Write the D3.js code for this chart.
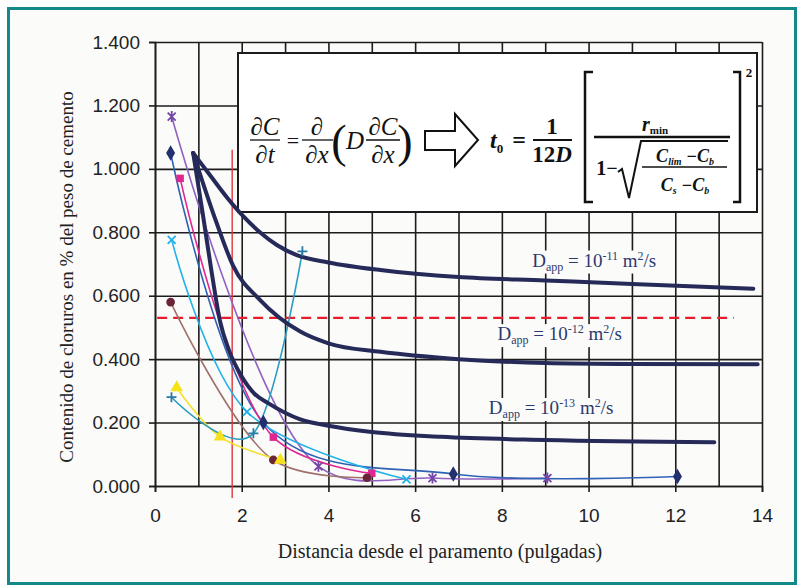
<!DOCTYPE html>
<html>
<head>
<meta charset="utf-8">
<script src="https://cdn.jsdelivr.net/npm/d3@7"></script>
<style>
  body { margin: 0; background: #fff; }
  svg { display: block; }
</style>
</head>
<body>
<div id="chart"></div>
<script>
// ---- data ----
const xGridValues = d3.range(0, 15);
const xLabelValues = d3.range(0, 15, 2);
const yTickValues = [0, 0.2, 0.4, 0.6, 0.8, 1.0, 1.2, 1.4];

// model curves (thick navy)
const dapp11 = [[0.88,1.05],[1.27,0.98],[1.66,0.91],[2.04,0.85],[2.42,0.80],[2.81,0.76],[3.27,0.728],[4,0.705],[5.2,0.681],[7,0.659],[9,0.648],[11,0.637],[13.8,0.622]];
const dapp12 = [[0.88,1.05],[1.42,0.83],[1.8,0.695],[2.42,0.587],[3.35,0.487],[4,0.45],[5.2,0.423],[7,0.40],[9,0.388],[11,0.385],[13.9,0.384]];
const dapp13 = [[0.88,1.05],[1.1,0.86],[1.3,0.68],[1.5,0.52],[1.7,0.43],[2.0,0.345],[2.3,0.29],[2.6,0.262],[3.35,0.21],[4,0.19],[5,0.17],[6.6,0.155],[9,0.145],[12.9,0.138]];
const dappExponents = ["-11", "-12", "-13"];

// measured profiles
const purpleStar = [[0.385,1.165],[3.77,0.062],[6.4,0.025],[9.05,0.025]];
const navyDiamond = [[0.36,1.05],[2.5,0.20],[6.88,0.038],[12.05,0.03]];
const magentaSquare = [[0.58,0.97],[2.73,0.154],[5.0,0.04]];
const cyanX = [[0.385,0.776],[2.12,0.234],[5.8,0.021]];
const brownCircle = [[0.36,0.58],[2.73,0.082],[4.89,0.026]];
const yellowTriangle = [[0.5,0.31],[1.5,0.155],[2.89,0.082]];
const tealPlus = [[0.38,0.28],[2.27,0.166],[3.4,0.74]];

const thresholdY = 0.53;      // red dashed line
const thresholdXRange = [0.05, 13.35];
const coverX = 1.78;          // red vertical line
const coverTop = 1.06;

// ---- layout ----
const width = 804, height = 588;
const plot = { left: 155, right: 762, top: 42, bottom: 486 };

const svg = d3.select("#chart").append("svg")
    .attr("width", width)
    .attr("height", height);

svg.append("rect")
    .attr("x", 8.5).attr("y", 8.5)
    .attr("width", 787).attr("height", 575)
    .attr("fill", "#fbfbfa")
    .attr("stroke", "#14898b")
    .attr("stroke-width", 3);

const x = d3.scaleLinear().domain([0, 14]).range([plot.left, plot.right]);
const y = d3.scaleLinear().domain([0, 1.4]).range([plot.bottom, plot.top]);

const gridColor = "#1c1c1c";

// vertical grid
svg.append("g")
    .attr("transform", `translate(0,${plot.bottom})`)
    .call(d3.axisBottom(x).tickValues(xGridValues).tickSize(-(plot.bottom - plot.top)).tickFormat(""))
    .call(g => g.select(".domain").remove())
    .call(g => g.selectAll("line").attr("stroke", gridColor).attr("stroke-width", 1.6));

// horizontal grid
svg.append("g")
    .attr("transform", `translate(${plot.left},0)`)
    .call(d3.axisLeft(y).tickValues(yTickValues).tickSize(-(plot.right - plot.left)).tickFormat(""))
    .call(g => g.select(".domain").remove())
    .call(g => g.selectAll("line").attr("stroke", gridColor).attr("stroke-width", 1.6));

// x axis ticks + labels
svg.append("g")
    .attr("transform", `translate(0,${plot.bottom})`)
    .call(d3.axisBottom(x).tickValues(xLabelValues).tickSize(6).tickPadding(17).tickFormat(d3.format("d")))
    .call(g => g.select(".domain").attr("stroke", gridColor).attr("stroke-width", 1.6))
    .call(g => g.selectAll("line").attr("stroke", gridColor).attr("stroke-width", 1.6))
    .call(g => g.selectAll("text")
        .attr("fill", "#222")
        .style("font-family", "'Liberation Sans', Arial, sans-serif")
        .style("font-size", "19px"));

// y axis ticks + labels
svg.append("g")
    .attr("transform", `translate(${plot.left},0)`)
    .call(d3.axisLeft(y).tickValues(yTickValues).tickSize(6).tickPadding(9).tickFormat(d3.format(".3f")))
    .call(g => g.select(".domain").attr("stroke", gridColor).attr("stroke-width", 1.6))
    .call(g => g.selectAll("line").attr("stroke", gridColor).attr("stroke-width", 1.6))
    .call(g => g.selectAll("text")
        .attr("fill", "#222")
        .style("font-family", "'Liberation Sans', Arial, sans-serif")
        .style("font-size", "19px"));

// axis titles
svg.append("text")
    .attr("x", 440).attr("y", 558)
    .attr("text-anchor", "middle")
    .style("font-family", "'Liberation Serif', 'Times New Roman', serif")
    .style("font-size", "20px")
    .attr("fill", "#222")
    .text("Distancia desde el paramento (pulgadas)");

svg.append("text")
    .attr("transform", "translate(73,277) rotate(-90)")
    .attr("text-anchor", "middle")
    .style("font-family", "'Liberation Serif', 'Times New Roman', serif")
    .style("font-size", "19px")
    .attr("fill", "#222")
    .text("Contenido de cloruros en % del peso de cemento");

// ---- formula box ----
const box = svg.append("g");
box.append("rect")
    .attr("x", 238).attr("y", 53)
    .attr("width", 519).attr("height", 159)
    .attr("fill", "#fff")
    .attr("stroke", "#1c1c1c")
    .attr("stroke-width", 2);

const serif = "'Liberation Serif', 'Times New Roman', serif";
function ftext(tx, ty, str, size, opts = {}) {
    const t = box.append("text")
        .attr("x", tx).attr("y", ty)
        .attr("text-anchor", opts.anchor || "middle")
        .style("font-family", serif)
        .style("font-size", size + "px")
        .style("font-style", opts.italic ? "italic" : "normal")
        .style("font-weight", opts.bold ? "bold" : "normal")
        .attr("fill", "#111");
    t.text(str);
    return t;
}
function bar(x1, x2, yy, w) {
    box.append("line").attr("x1", x1).attr("x2", x2).attr("y1", yy).attr("y2", yy)
        .attr("stroke", "#111").attr("stroke-width", w || 1.3);
}
// dC/dt = d/dx (D dC/dx)
ftext(265, 135, "∂C", 25, { italic: true });
bar(250, 280, 140);
ftext(265, 163, "∂t", 25, { italic: true });
ftext(293, 148, "=", 22);
ftext(317, 135, "∂", 25, { italic: true });
bar(302, 333, 140);
ftext(317, 163, "∂x", 25, { italic: true });
ftext(339, 157, "(", 46);
ftext(355, 149, "D", 25, { italic: true });
ftext(383, 135, "∂C", 25, { italic: true });
bar(366, 400, 140);
ftext(383, 163, "∂x", 25, { italic: true });
ftext(405, 157, ")", 46);
// hollow arrow
box.append("path")
    .attr("d", "M425,131 H455 V114 L478,140 L455,166 V150 H425 Z")
    .attr("fill", "#fff").attr("stroke", "#111").attr("stroke-width", 2);
// t0 = 1/12D [ r_min / (1 - sqrt(...)) ]^2
const t0 = ftext(490, 148, "t", 24, { bold: true, italic: true, anchor: "start" });
t0.append("tspan").attr("dy", 5).style("font-size", "13px").style("font-style", "normal").text("0");
ftext(519, 148, "=", 24, { bold: true });
ftext(552, 134, "1", 23, { bold: true });
bar(533, 572, 140, 2);
const twelve = ftext(552, 162, "12", 23, { bold: true });
twelve.append("tspan").style("font-style", "italic").text("D");
box.append("path").attr("d", "M593,72 H585 V202 H593").attr("fill", "none").attr("stroke", "#111").attr("stroke-width", 2.5);
box.append("path").attr("d", "M733,72 H740 V202 H733").attr("fill", "none").attr("stroke", "#111").attr("stroke-width", 2.5);
ftext(749, 77, "2", 13, { bold: true });
const rmin = ftext(655, 131, "r", 20, { bold: true, italic: true });
rmin.append("tspan").attr("dy", 3).style("font-size", "11px").style("font-style", "normal").text("min");
bar(594, 730, 137, 2.5);
ftext(607, 175, "1−", 20, { bold: true });
box.append("path")
    .attr("d", "M618,172 L622,169 L629,198 L641,141 H728")
    .attr("fill", "none").attr("stroke", "#111").attr("stroke-width", 2);
const ctop = ftext(685, 162, "C", 18, { bold: true, italic: true });
ctop.append("tspan").attr("dy", 3).style("font-size", "10px").text("lim");
ctop.append("tspan").attr("dy", -3).text(" −C");
ctop.append("tspan").attr("dy", 3).style("font-size", "10px").text("b");
bar(642, 727, 167, 1.6);
const cbot = ftext(685, 191, "C", 18, { bold: true, italic: true });
cbot.append("tspan").attr("dy", 3).style("font-size", "10px").text("s");
cbot.append("tspan").attr("dy", -3).text(" −C");
cbot.append("tspan").attr("dy", 3).style("font-size", "10px").text("b");

// ---- D_app labels with background patch ----
const labelAnchors = [[8.7, 0.692], [7.9, 0.460], [7.7, 0.227]];
dappExponents.forEach((ex, i) => {
    const g = svg.append("g");
    const t = g.append("text")
        .attr("x", x(labelAnchors[i][0])).attr("y", y(labelAnchors[i][1]))
        .style("font-family", serif)
        .style("font-size", "19px")
        .attr("fill", "#2b3a6e");
    t.append("tspan").text("D");
    t.append("tspan").attr("dy", 4).style("font-size", "12px").text("app");
    t.append("tspan").attr("dy", -4).text(" = 10");
    t.append("tspan").attr("dy", -7).style("font-size", "12px").text(ex);
    t.append("tspan").attr("dy", 7).text(" m");
    t.append("tspan").attr("dy", -7).style("font-size", "12px").text("2");
    t.append("tspan").attr("dy", 7).text("/s");
    const bb = t.node().getBBox();
    g.insert("rect", "text")
        .attr("x", bb.x - 3).attr("y", bb.y + 2)
        .attr("width", bb.width + 6).attr("height", bb.height - 2)
        .attr("fill", "#fbfbfa");
});

// ---- threshold lines ----
svg.append("line")
    .attr("x1", x(thresholdXRange[0])).attr("x2", x(thresholdXRange[1]))
    .attr("y1", y(thresholdY)).attr("y2", y(thresholdY))
    .attr("stroke", "#e61e2b").attr("stroke-width", 2.2)
    .attr("stroke-dasharray", "10,6");

svg.append("line")
    .attr("x1", x(coverX)).attr("x2", x(coverX))
    .attr("y1", y(coverTop)).attr("y2", plot.bottom + 12)
    .attr("stroke", "#e2343c").attr("stroke-width", 1.4);

// ---- curves ----
svg.append("clipPath").attr("id", "plotclip")
    .append("rect")
    .attr("x", plot.left).attr("y", plot.top)
    .attr("width", plot.right - plot.left).attr("height", plot.bottom - plot.top + 2);

const smoothLine = alpha => d3.line().x(d => x(d[0])).y(d => y(d[1])).curve(d3.curveCatmullRom.alpha(alpha));
const mono = d3.line().x(d => x(d[0])).y(d => y(d[1])).curve(d3.curveMonotoneX);

const series = [
    { data: purpleStar, line: "#9061c2", mark: "#7446a6", shape: "star", alpha: 0.5 },
    { data: navyDiamond, line: "#2f62b4", mark: "#24306e", shape: "diamond", alpha: 0 },
    { data: magentaSquare, line: "#e0268f", mark: "#e0268f", shape: "square", alpha: 0.5 },
    { data: brownCircle, line: "#a0706c", mark: "#6a2636", shape: "circle", alpha: 0.5 },
    { data: yellowTriangle, line: "#f2e12a", mark: "#f5e21a", shape: "triangle", alpha: 0.5 },
    { data: cyanX, line: "#1fb2e8", mark: "#1fb2e8", shape: "x", alpha: 0.5 },
    { data: tealPlus, line: "#2a9dc0", mark: "#2a7aa6", shape: "plus", alpha: 0 }
];

const lines = svg.append("g").attr("clip-path", "url(#plotclip)");
series.forEach(s => {
    lines.append("path")
        .attr("d", smoothLine(s.alpha)(s.data))
        .attr("fill", "none")
        .attr("stroke", s.line)
        .attr("stroke-width", 1.6);
});

[dapp13, dapp12, dapp11].forEach(c => {
    lines.append("path")
        .attr("d", mono(c))
        .attr("fill", "none")
        .attr("stroke", "#262a58")
        .attr("stroke-width", 4)
        .attr("stroke-linecap", "round");
});

// markers
const marks = svg.append("g");
const strokeShapes = {
    x: "M-4,-4L4,4M-4,4L4,-4",
    plus: "M-5,0H5M0,-5V5",
    star: "M-4,-4L4,4M-4,4L4,-4M0,-5.5V5.5"
};
const filledShapes = {
    diamond: d3.symbol(d3.symbolDiamond, 70)(),
    square: d3.symbol(d3.symbolSquare, 56)(),
    circle: d3.symbol(d3.symbolCircle, 60)(),
    triangle: d3.symbol(d3.symbolTriangle, 70)()
};
series.forEach(s => {
    s.data.forEach(d => {
        const p = marks.append("path")
            .attr("transform", `translate(${x(d[0])},${y(d[1])})`);
        if (strokeShapes[s.shape]) {
            p.attr("d", strokeShapes[s.shape]).attr("fill", "none")
                .attr("stroke", s.mark).attr("stroke-width", 1.8);
        } else {
            p.attr("d", filledShapes[s.shape]).attr("fill", s.mark);
        }
    });
});
</script>
</body>
</html>
